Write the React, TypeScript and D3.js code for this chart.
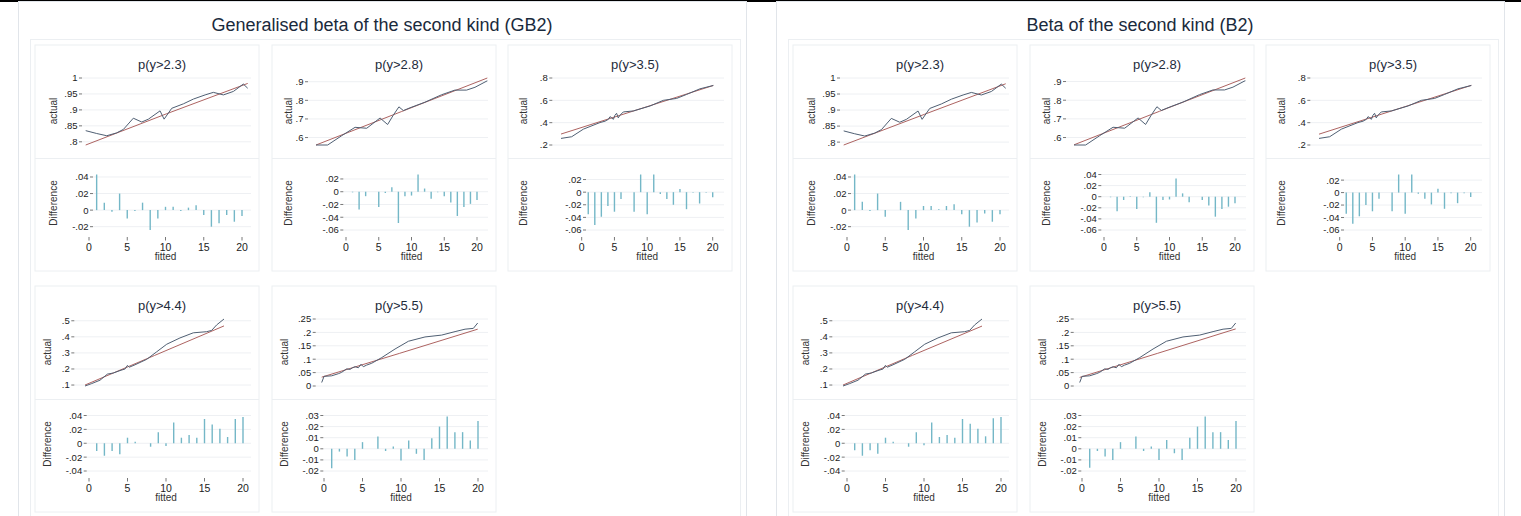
import React from 'react';
import * as d3 from 'd3';

type Pt = [number, number];

const W = 1521;
const H = 516;
const FONT = "'Liberation Sans', Arial, Helvetica, sans-serif";

const modelTitles = ['Generalised beta of the second kind (GB2)', 'Beta of the second kind (B2)'];
const thresholds = ['p(y>2.3)', 'p(y>2.8)', 'p(y>3.5)', 'p(y>4.4)', 'p(y>5.5)'];
const groups = [1, 2, 3, 4, 5, 6, 7, 8, 9, 10, 11, 12, 13, 14, 15, 16, 17, 18, 19, 20];
const xTicks = [0, 5, 10, 15, 20];

// observed proportions (same data for both models); x = position along covariate (0-100)
const actual23: Pt[] = [[0, .835], [6.8, .826], [13, .819], [19.1, .828], [23.3, .839], [29.4, .874], [34.6, .862], [38.7, .871], [45.9, .897], [48.4, .871], [53.1, .905], [60.3, .919], [66.5, .934], [73.7, .947], [78.8, .955], [85, .947], [91.2, .958], [97.3, .981], [100, .968]];
const actual28: Pt[] = [[0, .56], [6.8, .56], [15, .61], [22.8, .655], [29.6, .65], [37.4, .705], [41.8, .67], [45.1, .72], [48.4, .765], [51, .745], [54.9, .76], [63.6, .79], [73.3, .83], [81.1, .855], [87.9, .855], [92.8, .87], [100, .905]];
const actual35: Pt[] = [[0, .259], [7, .274], [14.7, .342], [25.6, .401], [28.9, .413], [31.1, .43], [32.2, .454], [34.4, .43], [35.4, .466], [36.5, .484], [37.6, .443], [38.7, .466], [40.9, .496], [47.5, .505], [58.4, .549], [67.2, .6], [75.9, .617], [82.5, .653], [91.2, .703], [100, .733]];
const actual44: Pt[] = [[0, .094], [4.8, .109], [10.8, .13], [16.1, .168], [20.4, .175], [25.2, .19], [28.8, .2], [30.5, .222], [31.9, .211], [36, .226], [44.4, .26], [51.6, .307], [58.8, .354], [68.3, .393], [77.9, .425], [87.5, .432], [91.1, .44], [94.7, .474], [100, .511]];
const actual55: Pt[] = [[0, .013], [1.5, .036], [6.4, .038], [10.7, .046], [12.8, .051], [16, .064], [18.2, .062], [19.7, .068], [21.4, .072], [23.5, .068], [25.2, .081], [26.7, .072], [28.8, .078], [32.1, .085], [38.5, .106], [47, .138], [55.6, .167], [66.2, .183], [76.9, .19], [85.5, .203], [91.9, .212], [97.2, .215], [100, .235]];

// fitted probabilities
const fittedGB2_23: Pt[] = [[0, .79], [50, .888], [100, .983]];
const fittedGB2_28: Pt[] = [[0, .56], [50, .74], [100, .92]];
const fittedGB2_35: Pt[] = [[0, .298], [50, .515], [100, .733]];
const fittedGB2_44: Pt[] = [[0, .1], [50, .284], [100, .468]];
const fittedGB2_55: Pt[] = [[0, .033], [50, .122], [100, .212]];
const fittedB2_23: Pt[] = [[0, .791], [50, .887], [100, .982]];
const fittedB2_28: Pt[] = [[0, .561], [50, .741], [100, .919]];
const fittedB2_35: Pt[] = [[0, .297], [50, .515], [100, .734]];
const fittedB2_44: Pt[] = [[0, .1], [50, .285], [100, .467]];
const fittedB2_55: Pt[] = [[0, .032], [50, .122], [100, .213]];

// difference (actual - fitted) by fitted group
const diffGB2_23 = [.043, .009, -.002, .02, -.01, -.001, .009, -.024, -.01, .004, .004, -.001, .003, .006, -.006, -.02, -.016, -.006, -.014, -.007];
const diffGB2_28 = [-.001, -.028, -.007, 0, -.024, -.002, .007, -.049, -.007, -.006, .027, .005, -.011, -.001, -.007, -.017, -.038, -.024, -.019, -.013];
const diffGB2_35 = [-.035, -.052, -.039, -.022, -.031, -.011, 0, -.031, .028, -.035, .028, -.003, -.011, -.02, .005, -.027, -.001, -.018, -.001, -.008];
const diffGB2_44 = [-.011, -.018, -.011, -.016, .008, .002, 0, -.005, .016, -.004, .03, .008, .012, .008, .035, .027, .021, .009, .035, .038];
const diffGB2_55 = [-.0175, -.0025, -.007, -.01, .006, 0, .011, -.002, .002, -.0105, .0075, -.0045, -.01, .0095, .02, .029, .015, .015, .0075, .025];
const diffB2_23 = [.043, .01, -.001, .02, -.008, 0, .01, -.024, -.01, .005, .005, .001, .005, .007, -.005, -.02, -.015, -.004, -.014, -.005];
const diffB2_28 = [-.001, -.026, -.006, .001, -.022, -.001, .008, -.047, -.006, -.005, .033, .006, -.01, 0, -.006, -.016, -.036, -.022, -.018, -.012];
const diffB2_35 = [-.034, -.05, -.038, -.02, -.03, -.01, 0, -.03, .029, -.034, .029, -.002, -.01, -.019, .006, -.026, -.001, -.017, -.001, -.007];
const diffB2_44 = [-.01, -.018, -.01, -.015, .008, .002, 0, -.005, .016, -.003, .03, .009, .012, .008, .035, .028, .021, .01, .036, .038];
const diffB2_55 = [-.017, -.002, -.007, -.01, .006, 0, .011, -.002, .002, -.01, .008, -.004, -.01, .01, .02, .029, .015, .015, .008, .025];

// tick values
const actualTicks = [[.8, .85, .9, .95, 1], [.6, .7, .8, .9], [.2, .4, .6, .8], [.1, .2, .3, .4, .5], [0, .05, .1, .15, .2, .25]];
const diffTicksGB2 = [[-.02, 0, .02, .04], [-.06, -.04, -.02, 0, .02], [-.06, -.04, -.02, 0, .02], [-.04, -.02, 0, .02, .04], [-.02, -.01, 0, .01, .02, .03]];
const diffTicksB2 = [[-.02, 0, .02, .04], [-.06, -.04, -.02, 0, .02, .04], [-.06, -.04, -.02, 0, .02], [-.04, -.02, 0, .02, .04], [-.02, -.01, 0, .01, .02, .03]];

const actuals = [actual23, actual28, actual35, actual44, actual55];
const fitted = [[fittedGB2_23, fittedGB2_28, fittedGB2_35, fittedGB2_44, fittedGB2_55], [fittedB2_23, fittedB2_28, fittedB2_35, fittedB2_44, fittedB2_55]];
const diffs = [[diffGB2_23, diffGB2_28, diffGB2_35, diffGB2_44, diffGB2_55], [diffB2_23, diffB2_28, diffB2_35, diffB2_44, diffB2_55]];
const diffTicks = [diffTicksGB2, diffTicksB2];

// layout (pixel offsets inside each sub-graph box)
const layouts = [
  { col: 0, row: 0, tax: 47, tx0: 50.7, tx1: 212.7, bax: 58, bx0: 54, bx1: 207, ytx: 18 },
  { col: 1, row: 0, tax: 36, tx0: 44, tx1: 215.3, bax: 71.3, bx0: 74, bx1: 205, ytx: 16 },
  { col: 2, row: 0, tax: 44.3, tx0: 53, tx1: 205.3, bax: 78, bx0: 73.7, bx1: 204.7, ytx: 15 },
  { col: 0, row: 1, tax: 39.3, tx0: 50, tx1: 189, bax: 51.7, bx0: 54, bx1: 208, ytx: 12.5 },
  { col: 1, row: 1, tax: 43.7, tx0: 49.7, tx1: 205.7, bax: 51.3, bx0: 52, bx1: 206, ytx: 12 },
];
const colX = [35, 272, 508];
const rowY = [45, 286];
const modelOffset = [0, 758];
const BOXW = 224;
const BOXH = 226;

const fmt = (v: number) => {
  if (Math.abs(v) < 1e-9) return '0';
  const s = String(+v.toFixed(4));
  return s.replace(/^0\./, '.').replace(/^-0\./, '-.');
};

const ACTUAL_COLOR = '#4f5f73';
const FITTED_COLOR = '#a4514f';
const SPIKE_COLOR = '#74b7c7';
const GRID = '#eef0f3';
const BORDER = '#eceff2';

function SubGraph({ bx, by, title, act, fit, diff, tTicks, dTicks, lay }: any) {
  const allTop = [...act.map((d: Pt) => d[1]), ...fit.map((d: Pt) => d[1]), ...tTicks];
  const topY = d3.scaleLinear().domain([d3.min(allTop)!, d3.max(allTop)!]).range([by + 100, by + 33]);
  const topX = d3.scaleLinear().domain([0, 100]).range([bx + lay.tx0, bx + lay.tx1]);
  const line = d3.line<Pt>().x(d => topX(d[0])).y(d => topY(d[1]));
  const allBot = [...diff, ...dTicks];
  const botY = d3.scaleLinear().domain([d3.min(allBot)!, d3.max(allBot)!]).range([by + 185, by + 129.5]);
  const botX = d3.scaleLinear().domain([0, 20]).range([bx + lay.bx0, bx + lay.bx1]);
  const right = bx + 216;
  const tax = bx + lay.tax;
  const bax = bx + lay.bax;
  return (
    <g>
      <rect x={bx} y={by} width={BOXW} height={BOXH} fill="#fff" stroke={BORDER} strokeWidth={1} />
      <line x1={bx} x2={bx + BOXW} y1={by + 113.5} y2={by + 113.5} stroke={BORDER} />
      <text x={bx + 127} y={by + 24} textAnchor="middle" fontSize={13} fill="#1e2b3a" fontFamily={FONT}>{title}</text>
      {tTicks.map((t: number) => (
        <g key={'t' + t}>
          <line x1={tax} x2={right} y1={topY(t)} y2={topY(t)} stroke={GRID} />
          <line x1={tax - 3} x2={tax} y1={topY(t)} y2={topY(t)} stroke="#555" strokeWidth={0.8} />
          <text x={tax - 4.5} y={topY(t) + 3.4} textAnchor="end" fontSize={9.5} fill="#222" fontFamily={FONT}>{fmt(t)}</text>
        </g>
      ))}
      <text transform={`translate(${bx + lay.ytx},${by + 66}) rotate(-90)`} textAnchor="middle" dy="0.35em" fontSize={10} fill="#333" fontFamily={FONT}>actual</text>
      <path d={line(fit) || ''} fill="none" stroke={FITTED_COLOR} strokeWidth={0.9} />
      <path d={line(act) || ''} fill="none" stroke={ACTUAL_COLOR} strokeWidth={1} />
      {dTicks.map((t: number) => (
        <g key={'d' + t}>
          <line x1={bax} x2={right} y1={botY(t)} y2={botY(t)} stroke={GRID} />
          <line x1={bax - 3} x2={bax} y1={botY(t)} y2={botY(t)} stroke="#555" strokeWidth={0.8} />
          <text x={bax - 4.5} y={botY(t) + 3.4} textAnchor="end" fontSize={9.5} fill="#222" fontFamily={FONT}>{fmt(t)}</text>
        </g>
      ))}
      <text transform={`translate(${bx + lay.ytx},${by + 158}) rotate(-90)`} textAnchor="middle" dy="0.35em" fontSize={10} fill="#333" fontFamily={FONT}>Difference</text>
      {groups.map((g, i) => (
        <line key={'s' + g} x1={botX(g)} x2={botX(g)} y1={botY(0)} y2={botY(diff[i])} stroke={SPIKE_COLOR} strokeWidth={1.4} />
      ))}
      {xTicks.map(t => (
        <g key={'x' + t}>
          <line x1={botX(t)} x2={botX(t)} y1={by + 192} y2={by + 195.5} stroke="#555" strokeWidth={0.8} />
          <text x={botX(t)} y={by + 205.5} textAnchor="middle" fontSize={10.5} fill="#222" fontFamily={FONT}>{t}</text>
        </g>
      ))}
      <text x={(botX(0) + botX(20)) / 2} y={by + 214.5} textAnchor="middle" fontSize={10} fill="#333" fontFamily={FONT}>fitted</text>
    </g>
  );
}

export default function App() {
  return (
    <svg width={W} height={H} style={{ position: 'absolute', left: 0, top: 0, background: '#fff' }}>
      <rect x={0} y={0} width={W} height={2} fill="#000" />
      {modelTitles.map((mt, m) => {
        const ox = modelOffset[m];
        return (
          <g key={mt}>
            <rect x={ox + 18.5} y={1.5} width={728} height={H + 10} fill="#fff" stroke="#e1e5ea" />
            <text x={ox + 382} y={31} textAnchor="middle" fontSize={18} fill="#1a2a3c" fontFamily={FONT}>{mt}</text>
            <rect x={ox + 30.5} y={39.5} width={710} height={H} fill="#fff" stroke={BORDER} />
            {layouts.map((lay, k) => (
              <SubGraph
                key={k}
                bx={ox + colX[lay.col]}
                by={rowY[lay.row]}
                title={thresholds[k]}
                act={actuals[k]}
                fit={fitted[m][k]}
                diff={diffs[m][k]}
                tTicks={actualTicks[k]}
                dTicks={diffTicks[m][k]}
                lay={lay}
              />
            ))}
          </g>
        );
      })}
    </svg>
  );
}
